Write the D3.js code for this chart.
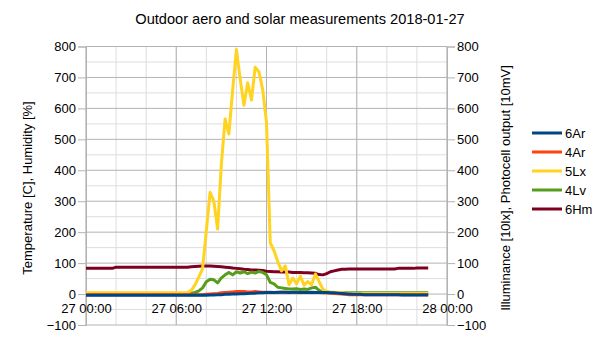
<!DOCTYPE html>
<html>
<head>
<meta charset="utf-8">
<script src="https://cdn.jsdelivr.net/npm/d3@7"></script>
<style>
body { margin: 0; background: #fff; }
text { font-family: "Liberation Sans", Arial, sans-serif; fill: #000; }
</style>
</head>
<body>
<script>
// series names and colours (legend order)
var seriesNames = ["6Ar", "4Ar", "5Lx", "4Lv", "6Hm"];
var seriesColors = ["#004586", "#ff420e", "#ffd320", "#579d1c", "#7e0021"];

// readings every 15 minutes, 27 00:00 .. 27 23:45
var ar6 = [-4,-4,-4,-4,-4,-4,-4,-4, -4,-4,-4,-4,-4,-4,-4,-4, -4,-4,-4,-4,-4,-4,-4,-4, -4,-4,-4,-4,-4,-4,-4,-4,
    -4,-3,-3,-2, -2,-1,-1,0, 0,1,1,2, 3,3,4,4,
    5,5,5,6, 6,6,5,6, 6,5,5,5, 6,5,5,5,
    5,4,4,3, 2,1,0,-1, -1,-1,-2,-2, -2,-2,-2,-2, -2,-2,-2,-2, -3,-3,-3,-3, -3,-3,-3,-3];
var ar4 = [-2,-2,-2,-2,-2,-2,-2,-2, -2,-2,-2,-2,-2,-2,-2,-2, -2,-2,-2,-2,-2,-2,-2,-2, -2,-2,-2,-2,-2,-2,-2,-2,
    -1,0,1,2, 4,5,6,7, 8,8,8,7, 7,8,7,6,
    6,6,5,5, 6,6,5,5, 5,5,6,5, 5,5,5,4,
    4,3,2,1, 0,-1,-2,-2, -2,-2,-2,-2, -2,-2,-2,-2, -2,-2,-2,-2, -2,-2,-2,-2, -2,-2,-2,-2];
var lx5 = [4,4,4,4,4,4,4,4, 4,4,4,4,4,4,4,4, 4,4,4,4,4,4,4,4, 4,4,4,5,12,30,55,82,
    205,329,300,210, 420,566,517,660, 790,695,610,683, 627,733,718,660,
    555,165,140,105, 75,91,30,52, 33,58,29,40, 30,65,40,15,
    9,7,6,5, 4,3,3,2, 2,2,2,2, 2,2,2,2, 2,2,2,2, 2,2,2,2, 2,2,2,2];
var lv4 = [2,2,2,2,2,2,2,2, 2,2,2,2,2,2,2,2, 2,2,2,2,2,2,2,2, 2,2,2,2,3,5,10,20,
    40,48,46,36, 52,62,70,62, 72,68,72,66, 71,68,73,70,
    62,38,33,22, 20,18,16,16, 17,15,16,15, 20,22,12,6,
    5,4,4,4, 4,4,4,4, 4,4,4,4, 4,4,4,4, 4,4,4,4, 4,4,4,4, 4,4,4,4];
var hm6 = [83,83,83,83,83,83,83,83, 87,87,87,87,87,87,87,87, 87,87,87,87,87,87,87,87, 87,87,87,87,88,89,90,91,
    91,91,90,89, 88,87,86,84, 83,82,80,79, 78,78,77,76,
    74,73,72,72, 71,71,71,70, 70,70,69,69, 68,67,63,62,
    66,72,75,78, 80,80,81,81, 81,81,81,81, 81,81,81,81, 81,81,81,83, 83,83,83,83, 84,84,84,84];
var seriesValues = [ar6, ar4, lx5, lv4, hm6];

var yTicks = [-100, 0, 100, 200, 300, 400, 500, 600, 700, 800];
var xStart = Date.UTC(2018, 0, 27), xEnd = Date.UTC(2018, 0, 28);
var times = d3.range(ar6.length).map(function(i){ return new Date(xStart + i * 15 * 60000); });

var width = 605, height = 340;
var margin = {left: 86, right: 158, top: 46.5, bottom: 15};

var svg = d3.select("body").append("svg")
    .attr("width", width)
    .attr("height", height);

svg.append("rect").attr("width", width).attr("height", height).attr("fill", "#fff");

var x = d3.scaleUtc()
    .domain([new Date(xStart), new Date(xEnd)])
    .range([margin.left, width - margin.right]);
var yLeft = d3.scaleLinear().domain([-100, 800]).range([height - margin.bottom, margin.top]);
var yRight = d3.scaleLinear().domain([-100, 800]).range([height - margin.bottom, margin.top]);

// minor grid
var grid = svg.append("g");
grid.selectAll(".hminor").data(d3.range(-50, 800, 100)).enter().append("line")
    .attr("x1", x.range()[0]).attr("x2", x.range()[1])
    .attr("y1", function(d){ return yLeft(d); }).attr("y2", function(d){ return yLeft(d); })
    .attr("stroke", "#dddddd");
grid.selectAll(".vminor").data(x.ticks(d3.utcHour.every(2))).enter().append("line")
    .attr("x1", function(d){ return x(d); }).attr("x2", function(d){ return x(d); })
    .attr("y1", yLeft.range()[0]).attr("y2", yLeft.range()[1])
    .attr("stroke", "#dddddd");
// major grid
grid.selectAll(".hmajor").data(yTicks).enter().append("line")
    .attr("x1", x.range()[0]).attr("x2", x.range()[1])
    .attr("y1", function(d){ return yLeft(d); }).attr("y2", function(d){ return yLeft(d); })
    .attr("stroke", "#b3b3b3");
grid.selectAll(".vmajor").data(x.ticks(d3.utcHour.every(6))).enter().append("line")
    .attr("x1", function(d){ return x(d); }).attr("x2", function(d){ return x(d); })
    .attr("y1", yLeft.range()[0]).attr("y2", yLeft.range()[1])
    .attr("stroke", "#b3b3b3");

// axes
var leftAxis = svg.append("g")
    .attr("transform", "translate(" + margin.left + ",0)")
    .call(d3.axisLeft(yLeft).tickValues(yTicks).tickSize(8).tickPadding(2));
var rightAxis = svg.append("g")
    .attr("transform", "translate(" + (width - margin.right) + ",0)")
    .call(d3.axisRight(yRight).tickValues(yTicks).tickSize(8).tickPadding(2));
var bottomAxis = svg.append("g")
    .attr("transform", "translate(0," + yLeft(0) + ")")
    .call(d3.axisBottom(x).ticks(d3.utcHour.every(6)).tickFormat(d3.utcFormat("%d %H:%M")).tickSize(0).tickPadding(10));

[leftAxis, rightAxis, bottomAxis].forEach(function(a){
    a.selectAll("path, line").attr("stroke", "#b3b3b3");
    a.selectAll("text").style("font-size", "13px").attr("fill", "#000")
        .style("font-family", "'Liberation Sans', Arial, sans-serif");
});
bottomAxis.select("path").remove();

// data lines, last legend entry drawn first
var line = d3.line()
    .x(function(d, i){ return x(times[i]); })
    .y(function(d){ return yLeft(d); });

for (var s = seriesNames.length - 1; s >= 0; s--) {
    svg.append("path")
        .datum(seriesValues[s])
        .attr("fill", "none")
        .attr("stroke", seriesColors[s])
        .attr("stroke-width", 3)
        .attr("stroke-linejoin", "round")
        .attr("d", line);
}

// title
svg.append("text")
    .attr("x", 300).attr("y", 24)
    .attr("text-anchor", "middle")
    .style("font-size", "14.6px")
    .text("Outdoor aero and solar measurements 2018-01-27");

// axis titles
svg.append("text")
    .attr("transform", "translate(32,188) rotate(-90)")
    .attr("text-anchor", "middle")
    .style("font-size", "13px")
    .text("Temperature [C], Humidity [%]");
svg.append("text")
    .attr("transform", "translate(510,188) rotate(-90)")
    .attr("text-anchor", "middle")
    .style("font-size", "13px")
    .text("Illuminance [10lx], Photocell output [10mV]");

// legend
var legend = svg.selectAll(".legend").data(seriesNames).enter().append("g")
    .attr("transform", function(d, i){ return "translate(532," + (133 + i * 19) + ")"; });
legend.append("line")
    .attr("x1", 0).attr("x2", 30)
    .attr("stroke", function(d, i){ return seriesColors[i]; })
    .attr("stroke-width", 3);
legend.append("text")
    .attr("x", 33).attr("dy", "0.35em")
    .style("font-size", "13px")
    .text(function(d){ return d; });
</script>
</body>
</html>
